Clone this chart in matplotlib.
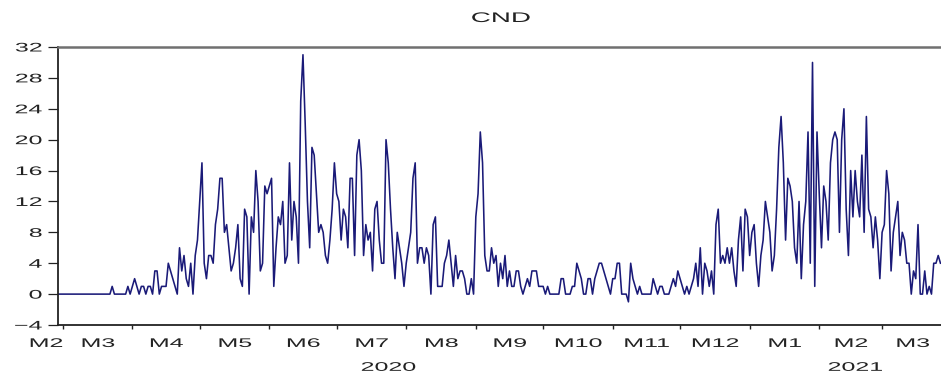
import numpy as np
import pandas as pd
import matplotlib
matplotlib.use('Agg')
import matplotlib.pyplot as plt
import matplotlib.dates as mdates
from matplotlib.ticker import FixedLocator, NullFormatter
from matplotlib.patheffects import AbstractPathEffect
from matplotlib.transforms import Affine2D

# daily CND counts, 28 Feb 2020 - 27 Mar 2021 (one list per month)
feb_2020 = [0, 0]
mar_2020 = [0, 0, 0, 0, 0, 0, 0, 0, 0, 0, 0, 0, 0, 0, 0, 0, 0, 0, 0, 0, 0, 0,
            1, 0, 0, 0, 0, 0, 0, 1, 0]
apr_2020 = [1, 2, 1, 0, 1, 1, 0, 1, 1, 0, 3, 3, 0, 1, 1, 1, 4, 3, 2, 1,
            0, 6, 3, 5, 2, 1, 4, 0, 5, 7]
may_2020 = [12, 17, 4, 2, 5, 5, 4, 9, 11, 15, 15, 8, 9, 6, 3, 4, 6, 9, 2, 1,
            11, 10, 0, 10, 8, 16, 12, 3, 4, 14, 13]
jun_2020 = [14, 15, 1, 6, 10, 9, 12, 4, 5, 17, 7, 12, 10, 4, 25, 31, 22, 12, 6, 19,
            18, 13, 8, 9, 8, 5, 4, 7, 11, 17]
jul_2020 = [13, 12, 7, 11, 10, 6, 15, 15, 5, 18, 20, 16, 5, 9, 7, 8, 3, 11, 12, 7,
            4, 4, 20, 17, 11, 6, 2, 8, 6, 4, 1]
aug_2020 = [4, 6, 8, 15, 17, 4, 6, 6, 4, 6, 5, 0, 9, 10, 1, 1, 1, 4, 5, 7,
            4, 1, 5, 2, 3, 3, 2, 0, 0, 2, 0]
sep_2020 = [10, 13, 21, 17, 5, 3, 3, 6, 4, 5, 1, 4, 2, 5, 1, 3, 1, 1, 3, 3,
            1, 0, 1, 2, 1, 3, 3, 3, 1, 1]
oct_2020 = [1, 0, 1, 0, 0, 0, 0, 0, 2, 2, 0, 0, 0, 1, 1, 4, 3, 2, 0, 0,
            2, 2, 0, 2, 3, 4, 4, 3, 2, 1, 0]
nov_2020 = [2, 2, 4, 4, 0, 0, 0, -1, 4, 2, 1, 0, 1, 0, 0, 0, 0, 0, 2, 1,
            0, 1, 1, 0, 0, 0, 1, 2, 1, 3]
dec_2020 = [2, 1, 0, 1, 0, 1, 2, 4, 1, 6, 0, 4, 3, 1, 3, 0, 9, 11, 4, 5,
            4, 6, 4, 6, 3, 1, 7, 10, 3, 11, 10]
jan_2021 = [5, 8, 9, 4, 1, 5, 7, 12, 10, 8, 3, 5, 11, 19, 23, 17, 7, 15, 14, 12,
            6, 4, 12, 2, 9, 12, 21, 4, 30, 1, 21]
feb_2021 = [13, 6, 14, 12, 7, 17, 20, 21, 20, 8, 20, 24, 11, 5, 16, 10, 16, 12, 10, 18,
            8, 23, 11, 10, 6, 10, 7, 2]
mar_2021 = [8, 9, 16, 13, 3, 8, 10, 12, 5, 8, 7, 4, 4, 0, 3, 2, 9, 0, 0, 3,
            0, 1, 0, 4, 4, 5, 4]

month_labels = ['M2', 'M3', 'M4', 'M5', 'M6', 'M7', 'M8', 'M9', 'M10', 'M11', 'M12',
                'M1', 'M2', 'M3']
year_labels = ['2020', '2021']

cnd = (feb_2020 + mar_2020 + apr_2020 + may_2020 + jun_2020 + jul_2020 + aug_2020
       + sep_2020 + oct_2020 + nov_2020 + dec_2020 + jan_2021 + feb_2021 + mar_2021)
days = pd.date_range('2020-02-28', periods=len(cnd), freq='D')


class Widen(AbstractPathEffect):
    # the reference is squashed sideways, its lettering comes out ~2x wide
    def __init__(self, sx=2.0, anchor=0.5):
        super().__init__()
        self.sx = sx
        self.anchor = anchor

    def draw_path(self, renderer, gc, tpath, affine, rgbFace=None):
        xs = tpath.vertices[:, 0]
        x0 = xs.min() + self.anchor * (xs.max() - xs.min()) if len(xs) else 0
        t = Affine2D().translate(-x0, 0).scale(self.sx, 1).translate(x0, 0) + affine
        renderer.draw_path(gc, tpath, t, rgbFace)


plt.rcParams['font.family'] = ['Liberation Sans', 'DejaVu Sans']
txt = '#222222'

fig = plt.figure(figsize=(9.41, 3.75), dpi=100)
ax = fig.add_axes([58.3 / 941, 1 - 325 / 375, 884.4 / 941, 278 / 375])

ax.plot(days, cnd, color='#1a1a78', lw=1.15)

xmin = days[0]
xmax = days[-1] + pd.Timedelta(days=1)
ax.set_xlim(xmin, xmax)
ax.set_ylim(-4, 32)
ax.set_yticks(np.arange(-4, 33, 4))

ax.spines['right'].set_visible(False)
ax.spines['top'].set_color('#707070')
ax.spines['top'].set_linewidth(1.8)
for s in ['left', 'bottom']:
    ax.spines[s].set_color('#222222')
    ax.spines[s].set_linewidth(1.3)

ax.tick_params(axis='y', direction='out', length=7.2, width=0.9, pad=4.5,
               labelsize=9, colors=txt)
ax.xaxis.set_major_locator(mdates.MonthLocator())
ax.xaxis.set_major_formatter(NullFormatter())
ax.xaxis.set_minor_locator(FixedLocator([mdates.date2num(pd.Timestamp('2021-01-01'))]))
ax.xaxis.set_minor_formatter(NullFormatter())
ax.tick_params(axis='x', which='major', direction='out', length=3, width=1.0, colors='#222222')
ax.tick_params(axis='x', which='minor', direction='out', length=6, width=1.0, colors='#222222')

for lab in ax.get_yticklabels():
    lab.set_path_effects([Widen(2.0, 1.0)])

# month labels centred on the visible part of each month
starts = pd.date_range('2020-02-01', periods=len(month_labels), freq='MS')
for i, (st, lab) in enumerate(zip(starts, month_labels)):
    lo = max(st, xmin)
    hi = min(st + pd.offsets.MonthBegin(1), xmax)
    if i == 0:
        pos, ha, anc = hi, 'right', 1.0
    else:
        pos, ha, anc = lo + (hi - lo) / 2, 'center', 0.5
    t = ax.annotate(lab, xy=(mdates.date2num(pos), 0), xycoords=ax.get_xaxis_transform(),
                    xytext=(0, -15.8), textcoords='offset points',
                    ha=ha, va='baseline', fontsize=9, color=txt, annotation_clip=False)
    t.set_path_effects([Widen(2.0, anc)])

for lab, pos in zip(year_labels, ['2020-07-24', '2021-02-17']):
    t = ax.annotate(lab, xy=(mdates.date2num(pd.Timestamp(pos)), 0),
                    xycoords=ax.get_xaxis_transform(),
                    xytext=(0, -33), textcoords='offset points',
                    ha='center', va='baseline', fontsize=9, color=txt, annotation_clip=False)
    t.set_path_effects([Widen(2.0, 0.5)])

title = ax.set_title('CND', fontsize=10, pad=18, color=txt)
title.set_path_effects([Widen(2.0, 0.5)])

fig.savefig('out.png', dpi=100)
